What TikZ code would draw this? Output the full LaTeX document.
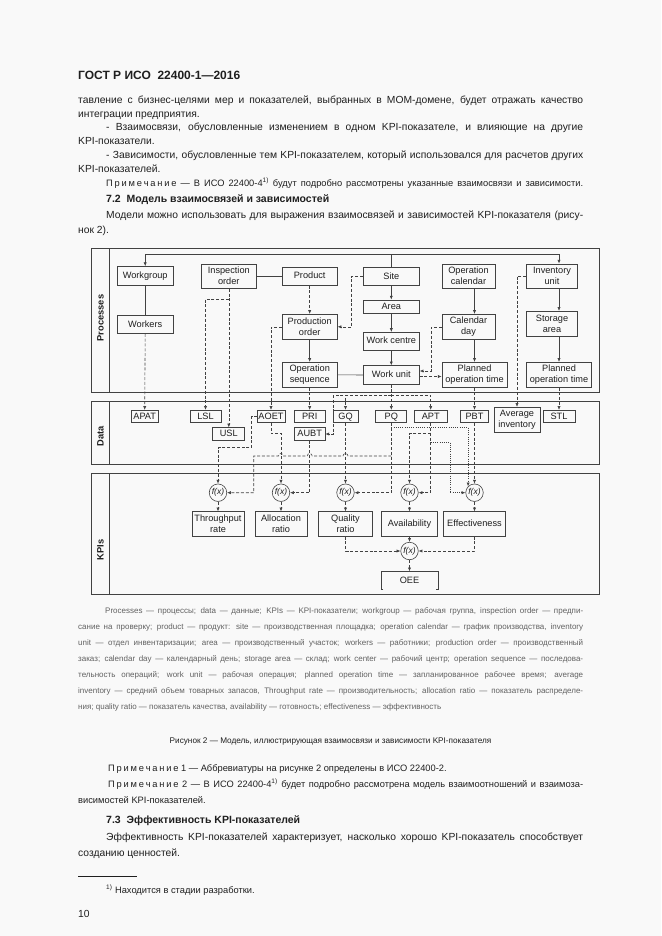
\documentclass[tikz,border=0pt]{standalone}
\usepackage{fontspec}
\setmainfont{Liberation Sans}
\usetikzlibrary{arrows.meta,calc}
\definecolor{ink}{gray}{0.12}
\definecolor{lin}{gray}{0.26}
\definecolor{capgray}{gray}{0.38}
\definecolor{pagebg}{gray}{0.975}
\newcommand\primech{П\kern1.8pt р\kern1.8pt и\kern1.8pt м\kern1.8pt е\kern1.8pt ч\kern1.8pt а\kern1.8pt н\kern1.8pt и\kern1.8pt е}
\begin{document}
\begin{tikzpicture}[x=1pt,y=-1pt,
  pbox/.style={draw=lin, line width=0.7pt, inner sep=0pt, align=center,
    font=\fontsize{9.2}{11}\selectfont, text=ink},
  one/.style={text height=6.7pt, text depth=1.2pt},
  sz/.style 2 args={minimum width=#1pt, minimum height=#2pt},
  fxn/.style={circle, draw=lin, line width=0.6pt, minimum size=17.5pt, inner sep=0pt,
    font=\fontsize{8.5}{10}\selectfont\itshape, text=ink},
  cn/.style={draw=lin, line width=0.6pt},
  ar/.style={-{Latex[length=3.8pt,width=3.2pt]}},
  dsh/.style={cn, dash pattern=on 3pt off 1.8pt},
  dtt/.style={cn, dash pattern=on 0.8pt off 1.4pt},
  band/.style={draw=lin, line width=0.8pt},
  lbl/.style={rotate=90, font=\bfseries\fontsize{9.3}{11}\selectfont, text=ink},
  btxt/.style={font=\fontsize{10.3}{12}\selectfont, text=ink, anchor=base west, inner sep=0pt},
  htxt/.style={font=\bfseries\fontsize{10.5}{12}\selectfont, text=ink, anchor=base west, inner sep=0pt},
  ntxt/.style={font=\fontsize{9.3}{11}\selectfont, text=ink, anchor=base west, inner sep=0pt},
  ctxt/.style={font=\fontsize{8}{10}\selectfont, text=capgray, anchor=base west, inner sep=0pt}
]
\path[use as bounding box, fill=pagebg] (0,0) rectangle (661,936);

% ---------- page text (top) ----------
\node[htxt, font=\bfseries\fontsize{12}{14}\selectfont] (hdr) at (78,79.5) {ГОСТ Р ИСО\ \ 22400-1—2016};
\node[btxt] (l1) at (78,103.5) {\makebox[505pt][s]{тавление с бизнес-целями мер и показателей, выбранных в МОМ-домене, будет отражать качество}};
\node[btxt] (l2) at (78,117.2) {интеграции предприятия.};
\node[btxt] (l3) at (106,130.9) {\makebox[477pt][s]{- Взаимосвязи, обусловленные изменением в одном KPI-показателе, и влияющие на другие}};
\node[btxt] (l4) at (78,144.6) {KPI-показатели.};
\node[btxt] (l5) at (106,158.3) {\makebox[477pt][s]{- Зависимости, обусловленные тем KPI-показателем, который использовался для расчетов других}};
\node[btxt] (l6) at (78,172) {KPI-показателей.};
\node[ntxt] (n0) at (106,186) {\makebox[477pt][s]{\primech\ — В ИСО 22400-4\textsuperscript{1)} будут подробно рассмотрены указанные взаимосвязи и зависимости.}};
\node[htxt] (h72) at (106,202) {7.2\ \ Модель взаимосвязей и зависимостей};
\node[btxt] (l7) at (106,218) {\makebox[477pt][s]{Модели можно использовать для выражения взаимосвязей и зависимостей KPI-показателя (рису-}};
\node[btxt] (l8) at (78,233.5) {нок 2).};

% ---------- bands ----------
\draw[band] (91.3,248.3) rectangle (599.5,392);
\draw[band] (109.7,248.3) -- (109.7,392);
\draw[band] (91.3,401.7) rectangle (599.5,464.3);
\draw[band] (109.7,401.7) -- (109.7,464.3);
\draw[band] (91.3,473.5) rectangle (599.5,594);
\draw[band] (109.7,473.5) -- (109.7,594);
\node[lbl] (lp) at (100.5,318) {Processes};
\node[lbl] (ld) at (100.5,436) {Data};
\node[lbl] (lk) at (100.5,550) {KPIs};

% ---------- process boxes ----------
\node[pbox, one, sz={56}{19}]   (wg)   at (145.2,276)   {Workgroup};
\node[pbox, one, sz={56}{18}]   (wk)   at (145.2,324.5) {Workers};
\node[pbox, sz={55}{24.5}] (io)   at (228.8,276.2) {Inspection\\order};
\node[pbox, one, sz={55}{18}]   (pr)   at (309.7,276.2) {Product};
\node[pbox, sz={55}{25}]   (po)   at (309.7,326.8) {Production\\order};
\node[pbox, sz={55}{25}]   (os)   at (309.7,374.8) {Operation\\sequence};
\node[pbox, one, sz={56}{18.5}] (site) at (391.3,276.5) {Site};
\node[pbox, one, sz={56}{13.5}] (area) at (391.3,306.7) {Area};
\node[pbox, one, sz={56}{17.7}] (wc)   at (391.3,341.2) {Work centre};
\node[pbox, one, sz={56}{18.6}] (wu)   at (391.3,375)   {Work unit};
\node[pbox, sz={53}{24.5}] (oc)   at (468.5,276.2) {Operation\\calendar};
\node[pbox, sz={53}{25}]   (cd)   at (468.5,326.8) {Calendar\\day};
\node[pbox, sz={65}{25}]   (pt1)  at (474.5,374.8) {Planned\\operation time};
\node[pbox, sz={51}{24.5}] (inv)  at (552,276.2)   {Inventory\\unit};
\node[pbox, sz={51}{25.5}] (stor) at (552,324)     {Storage\\area};
\node[pbox, sz={65}{25}]   (pt2)  at (559,374.8)   {Planned\\operation time};

% ---------- data boxes ----------
\node[pbox, one, sz={27}{12.5}]   (apat) at (144.7,416.5) {APAT};
\node[pbox, one, sz={31}{12.5}]   (lsl)  at (205.5,416.5) {LSL};
\node[pbox, one, sz={32}{12.5}]   (usl)  at (228.8,434)   {USL};
\node[pbox, one, sz={28}{12.5}]   (aoet) at (271,416.5)   {AOET};
\node[pbox, one, sz={30.6}{12.5}] (pri)  at (309.7,416.5) {PRI};
\node[pbox, one, sz={30.6}{12.5}] (aubt) at (309.7,434)   {AUBT};
\node[pbox, one, sz={25}{12.5}]   (gq)   at (345.5,416.5) {GQ};
\node[pbox, one, sz={31}{12.5}]   (pq)   at (391.3,416.5) {PQ};
\node[pbox, one, sz={33}{12.5}]   (apt)  at (430.7,416.5) {APT};
\node[pbox, one, sz={28}{12.5}]   (pbt)  at (474.5,416.5) {PBT};
\node[pbox, sz={46}{25.5}]   (avi)  at (517,420)     {Average\\inventory};
\node[pbox, one, sz={32}{12.5}]   (stl)  at (559,416.5)   {STL};

% ---------- KPI nodes ----------
\node[fxn] (f1) at (218,492.7)   {f(x)};
\node[fxn] (f2) at (281,492.7)   {f(x)};
\node[fxn] (f3) at (345.5,492.7) {f(x)};
\node[fxn] (f4) at (409.5,492.7) {f(x)};
\node[fxn] (f5) at (474.5,492.7) {f(x)};
\node[fxn] (f6) at (409.5,551)   {f(x)};
\node[pbox, sz={52}{24.5}] (tr) at (218,524)   {Throughput\\rate};
\node[pbox, sz={52}{24.5}] (ar) at (281,524)   {Allocation\\ratio};
\node[pbox, sz={54}{24.5}] (qr) at (345.5,524) {Quality\\ratio};
\node[pbox, one, sz={56}{24.5}] (av) at (409.5,524) {Availability};
\node[pbox, one, sz={62}{24.5}] (ef) at (474.5,524) {Effectiveness};
\node[pbox, one, draw=none, sz={56}{17.3}] (oee) at (409.5,580.3) {OEE};
\draw[cn, line width=0.7pt] ($(oee.south west)+(2,0)$) -- (oee.south west) -- (oee.north west) -- (oee.north east) -- (oee.south east) -- ++(-2,0);

% ---------- process connectors ----------
\coordinate (ty) at ($(site.north)+(0,-12.25)$);
\draw[cn,ar] (site.north) -- (ty) -| (wg.north);
\draw[cn,ar] (ty) -| (pt2.north |- inv.north);
\draw[cn] (wg.south) -- (wk.north);
\draw[cn] (io.east) -- (pr.west);
\draw[dsh,ar] (pr.south) -- (po.north);
\draw[dsh,ar] (site.west) -- ++(-11.6,0) |- (po.east);
\draw[cn,ar] (po.south) -- (os.north);
\draw[cn] (os.east) -- (wu.west);
\draw[cn,ar] (site.south) -- (area.north);
\draw[cn,ar] (area.south) -- (wc.north);
\draw[cn,ar] (wc.south) -- (wu.north);
\draw[dsh,ar] (cd.west) -- ++(-10.3,0) |- ($(wu.east)+(0,-4)$);
\draw[dsh,ar] ($(wu.east)+(0,1.5)$) -- ($(wu.east -| pt1.west)+(0,1.5)$);
\draw[cn,ar] (pt1.north |- oc.south) -- (pt1.north |- cd.north);
\draw[cn,ar] (pt1.north |- cd.south) -- (pt1.north);
\draw[cn,ar] (pt2.north |- inv.south) -- (pt2.north |- stor.north);
\draw[cn,ar] (pt2.north |- stor.south) -- (pt2.north);
\draw[dsh,ar] (inv.west) -| (avi.north);

% ---------- process -> data ----------
\draw[dsh,ar] (wk.south) -- (apat.north);
\draw[dsh,ar] (io.south) -- (usl.north);
\draw[dsh,ar] ($(io.south)+(0,10)$) -| (lsl.north);
\draw[dsh,ar] (po.west) -| (aoet.north);
\draw[dsh,ar] (os.south) -- (pri.north);
\coordinate (jw) at ($(wu.south)+(0,10.7)$);
\draw[dsh,ar] (wu.south) -- (pq.north);
\draw[dsh,ar] (jw) -| (gq.north);
\draw[dsh,ar] (jw) -| (apt.north);
\draw[dsh,ar] (jw) -| ($(aubt.east)+(8,0)$) -- (aubt.east);
\draw[dsh,ar] (pt1.south) -- (pbt.north);
\draw[dsh,ar] (pt2.south) -- (stl.north);

% ---------- data -> KPI ----------
\coordinate (k1) at (251.7,447.7);
\draw[dsh,ar] (aoet.west) -| (k1) -| (f1.north);
\coordinate (k2) at (281,433.5);
\draw[dsh,ar] (aoet.south) |- (k2) -- (f2.north);
\draw[dsh,ar] (aubt.south) |- (f2.east);
\draw[dsh,ar] (gq.south) -- (f3.north);
\draw[dsh,ar] (pq.south) |- (f3.east);
\coordinate (k6) at (253.7,456);
\draw[dsh,ar] (pq.south |- k6) -- ($(gq.south |- k6)+(2.5,0)$) arc[start angle=0,end angle=-180,radius=2.5]
   -- ($(aubt.south |- k6)+(2.5,0)$) arc[start angle=0,end angle=-180,radius=2.5]
   -- ($(k2 |- k6)+(2.5,0)$) arc[start angle=0,end angle=-180,radius=2.5]
   -- (k6) |- (f1.east);
\draw[dsh,ar] (apt.south) |- (f4.east);
\coordinate (k8) at (409.5,433.5);
\draw[dsh,ar] (apt.south |- k8) -- (k8) -- (f4.north);
\coordinate (d1) at (391.3,427.5);
\draw[dtt,ar] (d1) -| (f5.north west);
\coordinate (d2) at (450,442);
\draw[dtt,ar] (apt.south |- d2) -- (d2) |- (f5.west);
\draw[dsh,ar] (pbt.south) -- (f5.north);

% ---------- KPI -> KPI ----------
\draw[dsh,ar] (f1.south) -- (tr.north);
\draw[dsh,ar] (f2.south) -- (ar.north);
\draw[dsh,ar] (f3.south) -- (qr.north);
\draw[dsh,ar] (f4.south) -- (av.north);
\draw[dsh,ar] (f5.south) -- (ef.north);
\draw[dsh,ar] (qr.south) |- (f6.west);
\draw[dsh,ar] (av.south) -- (f6.north);
\draw[dsh,ar] (ef.south) |- (f6.east);
\draw[dsh,ar] (f6.south) -- (oee.north);

% ---------- caption key ----------
\node[ctxt] (c1) at (105,613) {\makebox[478pt][s]{Processes — процессы; data — данные; KPIs — KPI-показатели; workgroup — рабочая группа, inspection order — предпи-}};
\node[ctxt] (c2) at (78,629) {\makebox[505pt][s]{сание на проверку; product — продукт: site — производственная площадка; operation calendar — график производства, inventory}};
\node[ctxt] (c3) at (78,645) {\makebox[505pt][s]{unit — отдел инвентаризации; area — производственный участок; workers — работники; production order — производственный}};
\node[ctxt] (c4) at (78,661) {\makebox[505pt][s]{заказ; calendar day — календарный день; storage area — склад; work center — рабочий центр; operation sequence — последова-}};
\node[ctxt] (c5) at (78,677) {\makebox[505pt][s]{тельность операций; work unit — рабочая операция; planned operation time — запланированное рабочее время; average}};
\node[ctxt] (c6) at (78,693) {\makebox[505pt][s]{inventory — средний объем товарных запасов, Throughput rate — производительность; allocation ratio — показатель распределе-}};
\node[ctxt] (c7) at (78,709) {ния; quality ratio — показатель качества, availability — готовность; effectiveness — эффективность};

\node[font=\fontsize{8.2}{11}\selectfont, text=ink, anchor=base, inner sep=0pt] (cap) at (330.5,743) {Рисунок 2 — Модель, иллюстрирующая взаимосвязи и зависимости KPI-показателя};

% ---------- page text (bottom) ----------
\node[ntxt] (n1) at (108,771) {\primech\ 1 — Аббревиатуры на рисунке 2 определены в ИСО 22400-2.};
\node[ntxt] (n2) at (108,787) {\makebox[475pt][s]{\primech\ 2 — В ИСО 22400-4\textsuperscript{1)} будет подробно рассмотрена модель взаимоотношений и взаимоза-}};
\node[ntxt] (n3) at (78,803) {висимостей KPI-показателей.};
\node[htxt] (h73) at (106,823) {7.3\ \ Эффективность KPI-показателей};
\node[btxt] (l9) at (106,840) {\makebox[477pt][s]{Эффективность KPI-показателей характеризует, насколько хорошо KPI-показатель способствует}};
\node[btxt] (l10) at (78,856) {созданию ценностей.};
\draw[ink, line width=0.6pt] (78,876) -- (137,876);
\node[ntxt] (fn) at (106,893) {\textsuperscript{1)} Находится в стадии разработки.};
\node[btxt] (pg) at (78,917) {10};
\end{tikzpicture}
\end{document}
